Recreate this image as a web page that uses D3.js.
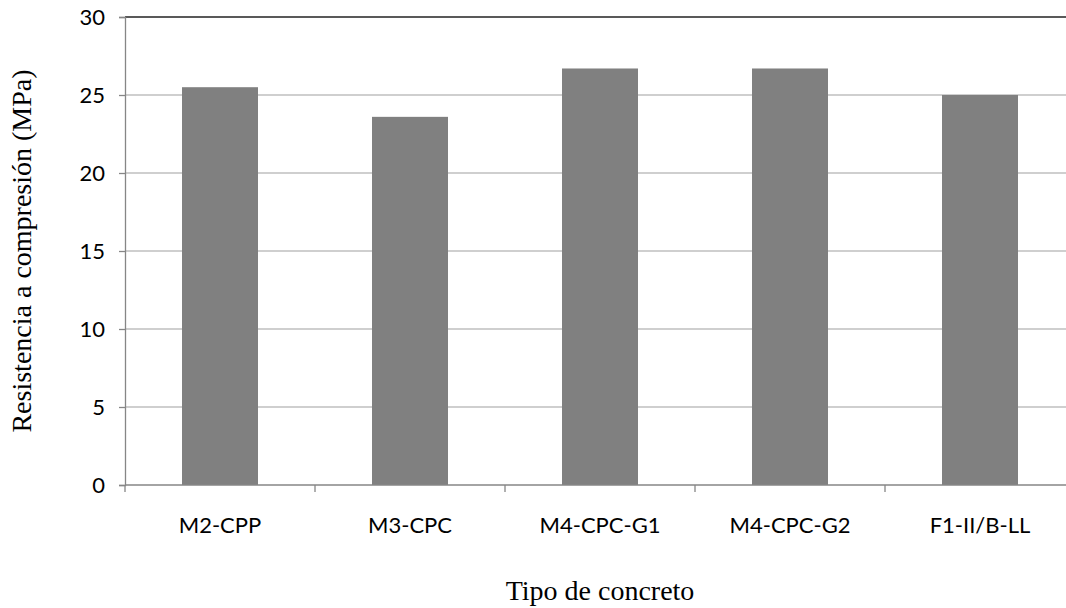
<!DOCTYPE html>
<html>
<head>
<meta charset="utf-8">
<script src="https://cdn.jsdelivr.net/npm/d3@7"></script>
<style>
  html, body { margin: 0; padding: 0; background: #fff; }
  svg { display: block; }
</style>
</head>
<body>
<svg id="chart" width="1066" height="608"></svg>
<script>
const categories = ["M2-CPP", "M3-CPC", "M4-CPC-G1", "M4-CPC-G2", "F1-II/B-LL"];
const values = [25.5, 23.6, 26.7, 26.7, 25.0];
const yTicks = [0, 5, 10, 15, 20, 25, 30];
const xTitle = "Tipo de concreto";
const yTitle = "Resistencia a compresión (MPa)";

(function () {
const svg = d3.select("#chart");
const pLeft = 125, pRight = 1075, pTop = 17, pBottom = 485;

const x = d3.scaleBand().domain(categories).range([pLeft, pRight]).paddingInner(0.6).paddingOuter(0.3);
const y = d3.scaleLinear().domain([0, 30]).range([pBottom, pTop]);

// gridlines
svg.append("g").selectAll("line").data(yTicks.filter(d => d > 0 && d < 30)).join("line")
  .attr("x1", pLeft).attr("x2", pRight)
  .attr("y1", d => y(d)).attr("y2", d => y(d))
  .attr("stroke", "#bfbfbf").attr("stroke-width", 1.3);

// top border
svg.append("line").attr("x1", pLeft).attr("x2", pRight).attr("y1", y(30)).attr("y2", y(30))
  .attr("stroke", "#595959").attr("stroke-width", 1.8);

// bars
svg.append("g").selectAll("rect").data(values).join("rect")
  .attr("x", (d, i) => x(categories[i]))
  .attr("width", x.bandwidth())
  .attr("y", d => y(d))
  .attr("height", d => y(0) - y(d))
  .attr("fill", "#808080");

// y axis
const yAxis = d3.axisLeft(y).tickValues(yTicks).tickSize(6).tickPadding(14);
const gy = svg.append("g").attr("transform", `translate(${pLeft},0)`).call(yAxis);
gy.select(".domain").attr("stroke", "#868686").attr("stroke-width", 1.3);
gy.selectAll(".tick line").attr("stroke", "#868686").attr("stroke-width", 1.3);
gy.selectAll(".tick text").attr("font-family", "Lato, 'Open Sans', sans-serif")
  .attr("font-size", 22).attr("fill", "#000");

// x axis
const xTickScale = d3.scaleLinear().domain([0, categories.length]).range([pLeft, pRight]);
const gx = svg.append("g").attr("transform", `translate(0,${pBottom})`);
gx.append("line").attr("x1", pLeft).attr("x2", pRight).attr("y1", 0).attr("y2", 0)
  .attr("stroke", "#868686").attr("stroke-width", 1.3);
gx.selectAll("line.t").data(d3.range(categories.length + 1)).join("line").attr("class", "t")
  .attr("x1", d => xTickScale(d)).attr("x2", d => xTickScale(d))
  .attr("y1", 0).attr("y2", 7)
  .attr("stroke", "#868686").attr("stroke-width", 1.3);
gx.selectAll("text").data(categories).join("text")
  .attr("x", d => x(d) + x.bandwidth() / 2)
  .attr("y", 48)
  .attr("text-anchor", "middle")
  .attr("font-family", "Lato, 'Open Sans', sans-serif")
  .attr("font-size", 22).attr("fill", "#000")
  .text(d => d);

// titles
svg.append("text").attr("x", (pLeft + pRight) / 2).attr("y", 600)
  .attr("text-anchor", "middle")
  .attr("font-family", "'Liberation Serif', 'Times New Roman', serif")
  .attr("font-size", 28).attr("fill", "#000").text(xTitle);

svg.append("text")
  .attr("transform", `translate(31,${(pTop + pBottom) / 2}) rotate(-90)`)
  .attr("text-anchor", "middle")
  .attr("font-family", "'Liberation Serif', 'Times New Roman', serif")
  .attr("font-size", 28).attr("fill", "#000").text(yTitle);
})();
</script>
</body>
</html>
